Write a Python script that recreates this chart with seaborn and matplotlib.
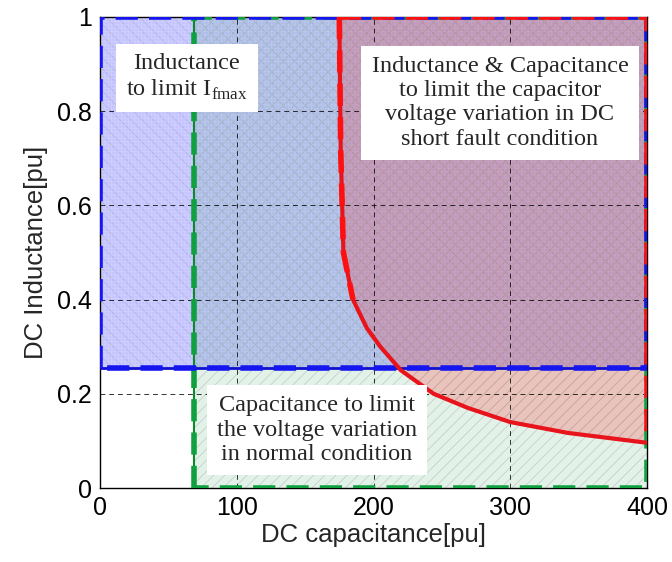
import matplotlib
matplotlib.use("Agg")
import matplotlib.pyplot as plt
import seaborn as sns
import numpy as np
import pandas as pd

# data
curve_C = [175, 176, 178, 185, 195, 205, 220, 244, 269, 300, 342, 400]
curve_L = [1.0, 0.72, 0.50, 0.40, 0.34, 0.30, 0.25, 0.20, 0.17, 0.14, 0.117, 0.096]
L_min_ifmax = 0.255      # inductance to limit Ifmax
C_min_normal = 69        # capacitance to limit voltage variation
x_max = 400
y_max = 1.0
x_ticks = [0, 100, 200, 300, 400]
y_ticks = [0, 0.2, 0.4, 0.6, 0.8, 1.0]
y_ticklabels = ["0", "0.2", "0.4", "0.6", "0.8", "1"]

sns.set_style("white")
plt.rcParams['hatch.linewidth'] = 0.6
plt.rcParams['mathtext.fontset'] = 'custom'
plt.rcParams['mathtext.rm'] = 'Liberation Serif'
fig = plt.figure(figsize=(6.72, 5.62), dpi=100)
ax = fig.add_axes([100/672, 1-488/562, 547/672, 471/562])

# grid
for xv in x_ticks[1:-1]:
    ax.axvline(xv, color="black", ls=(0, (5, 4)), lw=0.7, zorder=5, alpha=0.8)
for yv in y_ticks[1:-1]:
    ax.axhline(yv, color="black", ls=(0, (5, 4)), lw=0.7, zorder=5, alpha=0.8)

# blue region
ax.fill_between([0, x_max], [L_min_ifmax]*2, [y_max]*2, facecolor=(0.15, 0.15, 1.0, 0.27),
                edgecolor=(0.6, 0.6, 0.75, 0.45), hatch="\\\\\\", lw=0, zorder=1)
ax.fill_between([0, x_max], [L_min_ifmax]*2, [y_max]*2, facecolor="none",
                edgecolor=(1, 1, 1, 0.2), hatch="+++++", lw=0, zorder=1.5)
# green region
ax.fill_between([C_min_normal, x_max], [0, 0], [y_max]*2, facecolor=(0.1, 0.6, 0.3, 0.12),
                edgecolor=(0.62, 0.66, 0.62, 0.45), hatch="///", lw=0, zorder=2)
# red region
ax.fill_betweenx(curve_L, curve_C, [x_max]*len(curve_C), facecolor=(1, 0.05, 0.05, 0.2),
                 edgecolor=(0.75, 0.6, 0.6, 0.25), hatch="///", lw=0, zorder=3)

dash = (0, (4, 2))
# green borders
ax.plot([C_min_normal, C_min_normal], [0, y_max], color="#0a8a2a", lw=1.5, zorder=6)
ax.plot([C_min_normal, C_min_normal, x_max, x_max, C_min_normal],
        [0, y_max, y_max, 0, 0], color="#10a040", lw=4, ls=dash, zorder=6)
# blue borders
ax.plot([0, x_max], [L_min_ifmax]*2, color="#1010d0", lw=2, zorder=7)
ax.plot([0, 0, x_max, x_max, 0], [L_min_ifmax, y_max, y_max, L_min_ifmax, L_min_ifmax],
        color="#1515f0", lw=4, ls=dash, zorder=7)
# red curve and borders
df = pd.DataFrame({"C": curve_C, "L": curve_L})
sns.lineplot(data=df, x="C", y="L", sort=False, color="#e8141c", lw=3, ax=ax, zorder=8)
ax.plot([curve_C[0], x_max, x_max], [y_max, y_max, curve_L[-1]],
        color="#ff1010", lw=4, ls=dash, zorder=8)
ax.plot(curve_C[:4], curve_L[:4], color="#ff1010", lw=4, ls=dash, zorder=8)

# text boxes
tfont = dict(family="Liberation Serif", fontsize=17.5, ha="center", va="center",
             linespacing=1.2, zorder=10,
             bbox=dict(boxstyle="square,pad=0.42", fc="white", ec="none"))
ax.text(63.6, 0.872, "Inductance\nto limit I$_{\\mathregular{fmax}}$", **tfont)
ax.text(292.5, 0.818, "Inductance & Capacitance\nto limit the capacitor\nvoltage variation in DC\nshort fault condition", **tfont)
ax.text(158.7, 0.123, "Capacitance to limit\nthe voltage variation\nin normal condition", **tfont)

ax.set_xlim(0, x_max)
ax.set_ylim(0, y_max)
ax.set_xticks(x_ticks)
ax.set_yticks(y_ticks)
ax.set_yticklabels(y_ticklabels)
ax.tick_params(direction="in", length=5, labelsize=18, colors="black", pad=6)
for lbl in ax.get_xticklabels() + ax.get_yticklabels():
    lbl.set_family("Liberation Sans")
ax.set_xlabel("DC capacitance[pu]", fontsize=18.5, family="Liberation Sans", labelpad=2)
ax.set_ylabel("DC Inductance[pu]", fontsize=18.5, family="Liberation Sans", labelpad=6)
for s in ax.spines.values():
    s.set_color("black")
    s.set_linewidth(1)

fig.savefig("out.png", dpi=100)
